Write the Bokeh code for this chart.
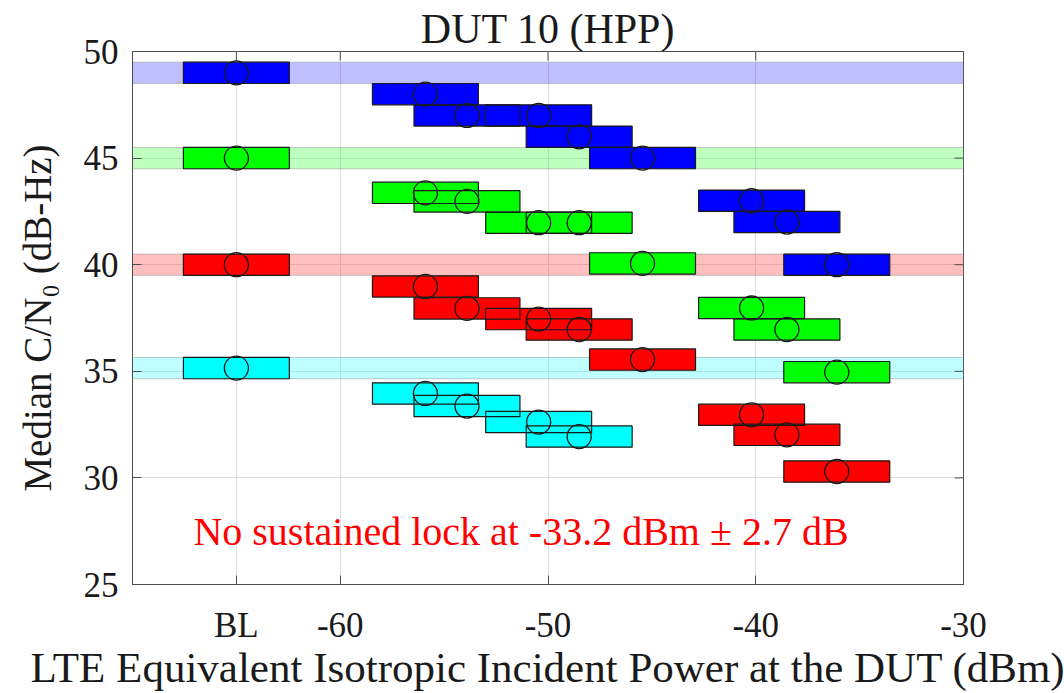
from bokeh.plotting import figure
from bokeh.models import FixedTicker, Range1d, Label, BoxAnnotation
from bokeh.embed import file_html
from bokeh.resources import INLINE

# ---------------- data ----------------
x_ticks = [-65, -60, -50, -40, -30]
x_tick_labels = ["BL", "-60", "-50", "-40", "-30"]
y_ticks = [25, 30, 35, 40, 45, 50]

bl_x = -65
power_x = [-55.9, -53.9, -50.45, -48.5, -45.45, -40.2, -38.5, -36.1]

blue_cn0 = [49.0, 48.0, 47.0, 47.0, 46.0, 45.0, 43.0, 42.0, 40.0]
green_cn0 = [45.0, 43.37, 42.97, 41.97, 41.97, 40.06, 37.97, 36.96, 34.96]
red_cn0 = [40.0, 38.98, 37.95, 37.45, 36.96, 35.55, 32.96, 32.02, 30.3]
cyan_cn0 = [35.15, 33.96, 33.37, 32.62, 31.94]

series_colors = ["#0000ff", "#00ff00", "#ff0000", "#00ffff"]

title_text = "DUT 10 (HPP)"
x_label = "LTE Equivalent Isotropic Incident Power at the DUT (dBm)"
y_label = "Median C/N\u2080 (dB-Hz)"
note_text = "No sustained lock at -33.2 dBm \u00b1 2.7 dB"

# ---------------- build ----------------
FONT = "Liberation Serif"
TXT = "#1a1a1a"
AX = "#4d4d4d"
box_w = 5.1
box_h = 1.0
x_lo, x_hi = -70, -30
y_lo, y_hi = 25, 50

p = figure(width=1064, height=693, output_backend="svg", toolbar_location=None,
           x_range=Range1d(x_lo, x_hi), y_range=Range1d(y_lo, y_hi),
           min_border_left=132, min_border_right=101, min_border_top=51,
           min_border_bottom=109)
p.outline_line_color = AX
p.outline_line_width = 1
p.background_fill_color = "white"

p.title.text = title_text
p.title.align = "center"
p.title.text_font = FONT
p.title.text_font_size = "42px"
p.title.text_font_style = "normal"
p.title.text_color = TXT
p.title.standoff = 0

for ax in (p.xaxis[0], p.yaxis[0]):
    ax.major_tick_in = 9
    ax.major_tick_out = 0
    ax.minor_tick_in = 0
    ax.minor_tick_out = 0
    ax.axis_line_color = AX
    ax.major_tick_line_color = AX
    ax.major_label_text_font = FONT
    ax.major_label_text_font_size = "35px"
    ax.major_label_text_color = TXT
    ax.axis_label_text_font = FONT
    ax.axis_label_text_font_style = "normal"
    ax.axis_label_text_color = TXT

p.xaxis[0].ticker = FixedTicker(ticks=x_ticks)
p.xaxis[0].major_label_overrides = {t: l for t, l in zip(x_ticks, x_tick_labels)}
p.xaxis[0].major_label_standoff = 21
p.xaxis[0].axis_label = x_label
p.xaxis[0].axis_label_text_font_size = "43px"
p.xaxis[0].axis_label_standoff = -4

p.yaxis[0].ticker = FixedTicker(ticks=y_ticks)
p.yaxis[0].major_label_standoff = 14
p.yaxis[0].axis_label = y_label
p.yaxis[0].axis_label_text_font_size = "39px"
p.yaxis[0].axis_label_standoff = 22

p.xgrid.ticker = FixedTicker(ticks=x_ticks)
p.ygrid.ticker = FixedTicker(ticks=y_ticks)
p.grid.grid_line_color = "#dedede"
p.grid.grid_line_width = 1

# inward ticks on the top and right edges of the box
tick_dx = (x_hi - x_lo) * 9 / 831.0
tick_dy = (y_hi - y_lo) * 9 / 533.0
p.segment(x0=x_ticks, y0=[y_hi] * len(x_ticks), x1=x_ticks,
          y1=[y_hi - tick_dy] * len(x_ticks), line_color=AX, line_width=1)
p.segment(x0=[x_hi] * len(y_ticks), y0=y_ticks, x1=[x_hi - tick_dx] * len(y_ticks),
          y1=y_ticks, line_color=AX, line_width=1)

series = [
    ([bl_x] + power_x, blue_cn0),
    ([bl_x] + power_x, green_cn0),
    ([bl_x] + power_x, red_cn0),
    ([bl_x] + power_x[:4], cyan_cn0),
]

# baseline bands
for (xs, ys), col in zip(series, series_colors):
    p.add_layout(BoxAnnotation(bottom=ys[0] - box_h / 2, top=ys[0] + box_h / 2,
                               fill_color=col, fill_alpha=0.25,
                               line_color="#888888", line_alpha=0.45, line_width=1,
                               level="underlay"))

# box fills
for (xs, ys), col in zip(series, series_colors):
    p.rect(x=xs, y=ys, width=box_w, height=box_h, fill_color=col, line_color=None)
# box edges
for (xs, ys), col in zip(series, series_colors):
    p.rect(x=xs, y=ys, width=box_w, height=box_h, fill_color=None,
           line_color=TXT, line_width=1.2)
# circles
for (xs, ys), col in zip(series, series_colors):
    p.scatter(x=xs, y=ys, marker="circle", size=24, fill_color=None,
              line_color=TXT, line_width=1.3)

# annotation text
p.add_layout(Label(x=-51.3, y=27.5, text=note_text, text_align="center",
                   text_baseline="middle", text_color="#ff0000",
                   text_font=FONT, text_font_size="40px"))

open("out.html", "w").write(file_html(p, INLINE))
